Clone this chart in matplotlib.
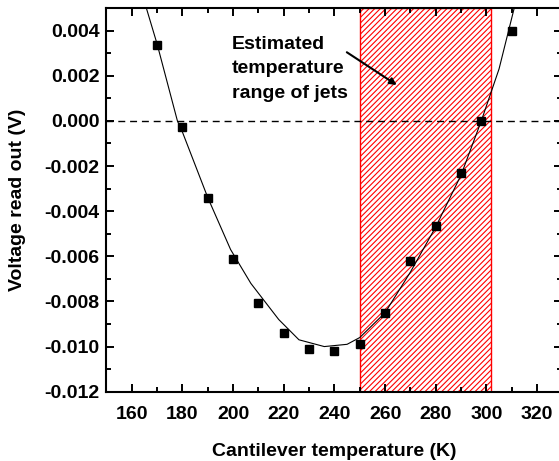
import numpy as np
import matplotlib
matplotlib.use("Agg")
import matplotlib.pyplot as plt
from matplotlib.ticker import MultipleLocator, FormatStrFormatter

plt.rcParams["font.family"] = "Liberation Sans"
plt.rcParams["font.weight"] = "bold"
plt.rcParams["axes.unicode_minus"] = False
plt.rcParams["hatch.color"] = "red"
plt.rcParams["hatch.linewidth"] = 0.8

# measured points
temp = [170, 180, 190, 200, 210, 220, 230, 240, 250, 260, 270, 280, 290, 298, 310]
volt = [0.00336, -0.00028, -0.00343, -0.0061, -0.00807, -0.00938, -0.01012,
        -0.01018, -0.00988, -0.00852, -0.00619, -0.00464, -0.00229, 0.0, 0.00396]

# fitted curve
fit_t = [163, 166, 170, 178, 180, 190, 199, 207, 218, 226, 236, 245, 250,
         260, 270, 280, 290, 298, 305, 311, 313]
fit_v = [0.0060, 0.0049, 0.0034, 0.0, -0.0005, -0.0034, -0.0057, -0.0072,
         -0.0088, -0.0097, -0.0100, -0.0099, -0.0096, -0.0085, -0.0067,
         -0.0047, -0.0024, 0.0, 0.0023, 0.0050, 0.0058]

band = (250, 302)

fig = plt.figure(figsize=(5.59, 4.61), dpi=100)
ax = fig.add_axes([0.1905, 0.1503, 0.8155, 0.8323])

ax.axvspan(band[0], band[1], facecolor="white", edgecolor="red",
           hatch="//////", linewidth=1.0, zorder=1)
ax.axhline(0.0, color="black", ls=(0, (5, 3.5)), lw=1.0, zorder=2)
ax.plot(fit_t, fit_v, color="black", lw=0.8, zorder=3)
ax.plot(temp, volt, ls="none", marker="s", ms=6.2, color="black", zorder=4)

ax.annotate("", xy=(264.6, 0.00159), xytext=(244.9, 0.00304),
            arrowprops=dict(arrowstyle="-|>", color="black", lw=1.5,
                            mutation_scale=10, shrinkA=0, shrinkB=0))
ax.text(199.5, 0.00375, "Estimated\ntemperature\nrange of jets",
        fontsize=14, fontweight="bold", ha="left", va="top",
        linespacing=1.55, zorder=5)

ax.set_xlim(150, 330)
ax.set_ylim(-0.012, 0.005)
ax.xaxis.set_major_locator(MultipleLocator(20))
ax.xaxis.set_minor_locator(MultipleLocator(10))
ax.yaxis.set_major_locator(MultipleLocator(0.002))
ax.yaxis.set_minor_locator(MultipleLocator(0.001))
ax.yaxis.set_major_formatter(FormatStrFormatter("%.3f"))

ax.tick_params(which="both", direction="in", top=True, right=True,
               width=1.4, labelsize=14)
ax.tick_params(which="major", length=6)
ax.tick_params(which="minor", length=3.5)
ax.tick_params(axis="x", pad=10)
ax.tick_params(axis="y", pad=5)
for s in ax.spines.values():
    s.set_linewidth(1.5)

ax.set_xlabel("Cantilever temperature (K)", fontsize=14, fontweight="bold",
              labelpad=15)
ax.set_ylabel("Voltage read out (V)", fontsize=14, fontweight="bold",
              labelpad=13)

fig.savefig("out.png", dpi=100)
